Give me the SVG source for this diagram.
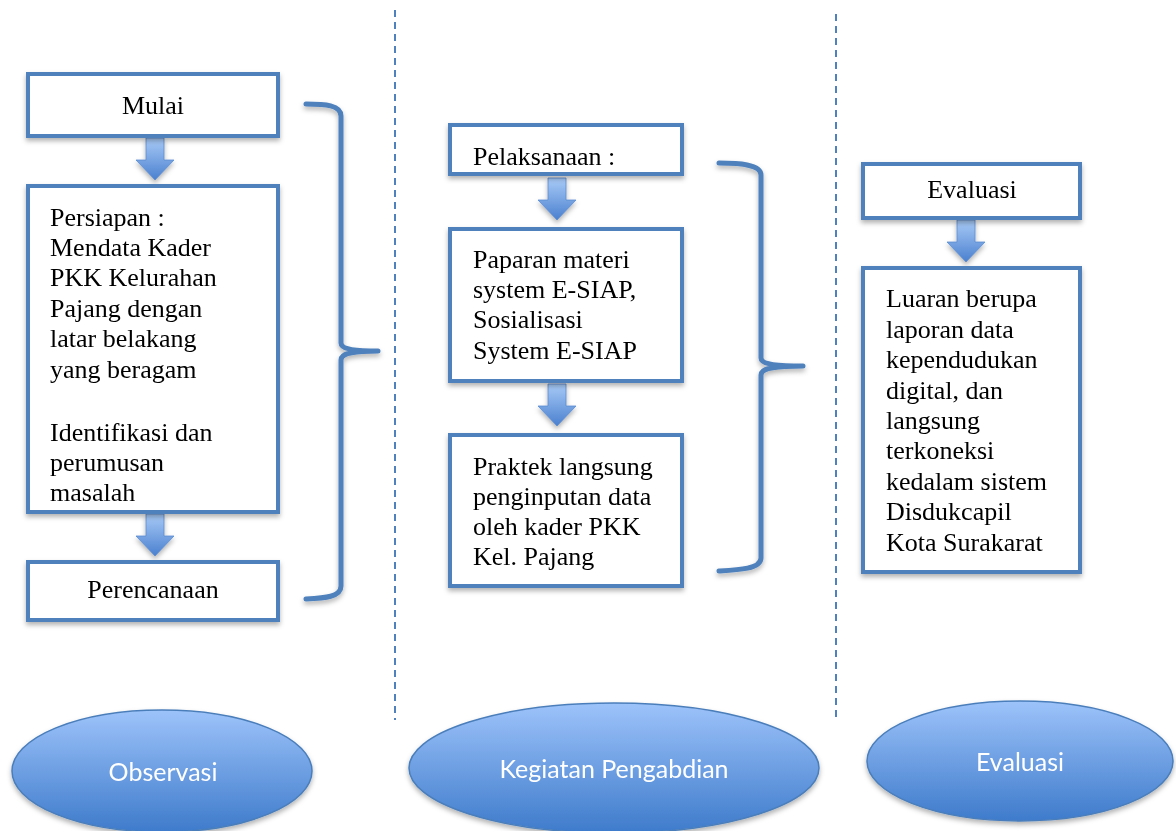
<svg xmlns="http://www.w3.org/2000/svg" width="1176" height="831" viewBox="0 0 1176 831">
<defs>
<linearGradient id="ellG" x1="0" y1="0" x2="0" y2="1">
<stop offset="0" stop-color="#9DC3FA"/>
<stop offset="1" stop-color="#3E7BCB"/>
</linearGradient>
<linearGradient id="arrG" x1="0" y1="0" x2="0" y2="1">
<stop offset="0" stop-color="#A9CBF7"/>
<stop offset="1" stop-color="#4A80CF"/>
</linearGradient>
<filter id="sh" x="-10%" y="-10%" width="120%" height="130%">
<feDropShadow dx="0" dy="3" stdDeviation="2.5" flood-color="#000" flood-opacity="0.3"/>
</filter>
<symbol id="arr" viewBox="-20 0 40 44" overflow="visible">
<path d="M-9 0 H9 V22 H19 L0 42 L-19 22 H-9 Z" fill="url(#arrG)" stroke="#5B8BD0" stroke-width="0.8"/>
</symbol>
</defs>
<style>
.box{fill:#fff;stroke:#4F81BD;stroke-width:4;}
.t{font-family:"Liberation Serif","Times New Roman",serif;font-size:26px;fill:#000;}
.c{text-anchor:middle;}
.brace{fill:none;stroke:#4F81BD;stroke-width:5;stroke-linecap:round;stroke-linejoin:round;}
.dash{stroke:#4F81BD;stroke-width:2;stroke-dasharray:7 5;}
.ell{fill:url(#ellG);stroke:#4A7EBB;stroke-width:1.5;}
.et{font-family:Lato,"Open Sans",sans-serif;font-size:25px;fill:#fff;text-anchor:middle;}
</style>
<rect width="1176" height="831" fill="#fff"/>

<g id="dividers">
<line class="dash" x1="395" y1="10" x2="395" y2="720"/>
<line class="dash" x1="836" y1="14" x2="836" y2="722"/>
</g>

<g id="connectors" filter="url(#sh)">
<use href="#arr" x="135" y="138" width="40" height="44"/>
<use href="#arr" x="135" y="514" width="40" height="44"/>
<use href="#arr" x="537" y="178" width="40" height="44"/>
<use href="#arr" x="537" y="384" width="40" height="44"/>
<use href="#arr" x="946" y="220" width="40" height="44"/>
<path class="brace" d="M306 104 C325 104 341 105 341 116 V343 C341 348 350 351 378 351 C350 351 341 354 341 360 V586 C341 597 325 598 306 599"/>
<path class="brace" d="M719 163 C738 163 761 164 761 175 V358 C761 363 770 366 803 366 C770 366 761 369 761 375 V558 C761 569 738 570 719 571"/>
</g>

<g id="n-mulai" filter="url(#sh)">
<rect class="box" x="28" y="74" width="250" height="62"/>
<text class="t c" x="153" y="114">Mulai</text>
</g>
<g id="n-persiapan" filter="url(#sh)">
<rect class="box" x="28" y="186" width="250" height="326"/>
<text class="t" x="50" y="226">Persiapan :</text>
<text class="t" x="50" y="256">Mendata Kader</text>
<text class="t" x="50" y="286">PKK Kelurahan</text>
<text class="t" x="50" y="317">Pajang dengan</text>
<text class="t" x="50" y="347">latar belakang</text>
<text class="t" x="50" y="378">yang beragam</text>
<text class="t" x="50" y="441">Identifikasi dan</text>
<text class="t" x="50" y="471">perumusan</text>
<text class="t" x="50" y="501">masalah</text>
</g>
<g id="n-perencanaan" filter="url(#sh)">
<rect class="box" x="28" y="562" width="250" height="58"/>
<text class="t c" x="153" y="598">Perencanaan</text>
</g>

<g id="n-pelaksanaan" filter="url(#sh)">
<rect class="box" x="450" y="125" width="232" height="49"/>
<text class="t" x="473" y="165">Pelaksanaan :</text>
</g>
<g id="n-paparan" filter="url(#sh)">
<rect class="box" x="450" y="229" width="232" height="152"/>
<text class="t" x="473" y="268">Paparan materi</text>
<text class="t" x="473" y="298">system E-SIAP,</text>
<text class="t" x="473" y="328">Sosialisasi</text>
<text class="t" x="473" y="359">System E-SIAP</text>
</g>
<g id="n-praktek" filter="url(#sh)">
<rect class="box" x="450" y="435" width="232" height="151"/>
<text class="t" x="473" y="475">Praktek langsung</text>
<text class="t" x="473" y="505">penginputan data</text>
<text class="t" x="473" y="535">oleh kader PKK</text>
<text class="t" x="473" y="565">Kel. Pajang</text>
</g>

<g id="n-evaluasi" filter="url(#sh)">
<rect class="box" x="863" y="164" width="217" height="54"/>
<text class="t c" x="972" y="198">Evaluasi</text>
</g>
<g id="n-luaran" filter="url(#sh)">
<rect class="box" x="863" y="268" width="217" height="304"/>
<text class="t" x="886" y="307">Luaran berupa</text>
<text class="t" x="886" y="338">laporan data</text>
<text class="t" x="886" y="368">kependudukan</text>
<text class="t" x="886" y="399">digital, dan</text>
<text class="t" x="886" y="429">langsung</text>
<text class="t" x="886" y="459">terkoneksi</text>
<text class="t" x="886" y="490">kedalam sistem</text>
<text class="t" x="886" y="520">Disdukcapil</text>
<text class="t" x="886" y="551">Kota Surakarat</text>
</g>

<g id="e-observasi" filter="url(#sh)">
<ellipse class="ell" cx="162" cy="771" rx="150" ry="61"/>
<text class="et" x="163" y="781">Observasi</text>
</g>
<g id="e-kegiatan" filter="url(#sh)">
<ellipse class="ell" cx="614" cy="768" rx="205" ry="65"/>
<text class="et" x="614" y="778">Kegiatan Pengabdian</text>
</g>
<g id="e-evaluasi" filter="url(#sh)">
<ellipse class="ell" cx="1020" cy="761" rx="153" ry="60"/>
<text class="et" x="1020" y="771">Evaluasi</text>
</g>
</svg>
